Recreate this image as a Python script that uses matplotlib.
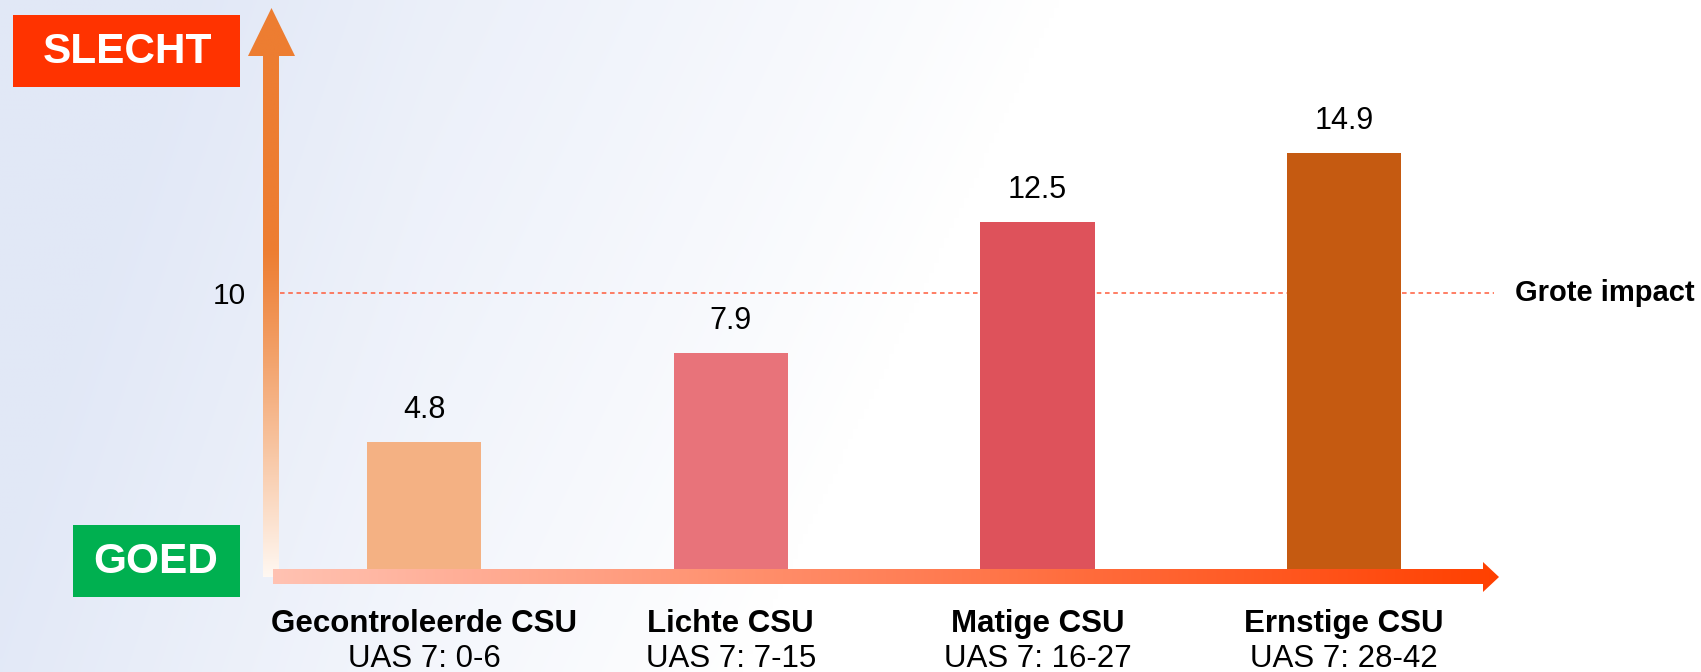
import numpy as np
import matplotlib.pyplot as plt
from matplotlib.patches import Polygon, Rectangle
from matplotlib.colors import to_rgb

plt.rcParams['font.family'] = ['Liberation Sans', 'DejaVu Sans']

# data
categories = ['Gecontroleerde CSU', 'Lichte CSU', 'Matige CSU', 'Ernstige CSU']
uas_ranges = ['UAS 7: 0-6', 'UAS 7: 7-15', 'UAS 7: 16-27', 'UAS 7: 28-42']
values = [4.8, 7.9, 12.5, 14.9]
bar_colors = ['#F4B183', '#E8737A', '#DE525B', '#C55A11']
threshold = 10
threshold_label = 'Grote impact'

W, H = 1701, 672
fig = plt.figure(figsize=(W / 100, H / 100), dpi=100)


def blend(c1, c2, t):
    c1 = np.array(to_rgb(c1))
    c2 = np.array(to_rgb(c2))
    t = np.asarray(t)[..., None]
    return c1 * (1 - t) + c2 * t


# background: light blue in the top-left fading to white
bg = fig.add_axes([0, 0, 1, 1])
bg.set_zorder(0)
gx, gy = np.meshgrid(np.linspace(0, 1, 340), np.linspace(0, 1, 134))
s = np.clip(1 - gx / 0.62 - 0.3 * gy, 0, 1) ** 0.9
s = np.clip(s + 0.15 * np.clip(1 - gx / 0.25, 0, 1), 0, 0.92)
bg.imshow(blend('#FFFFFF', '#DFE6F6', s), extent=(0, W, H, 0), aspect='auto',
          interpolation='bilinear')
bg.set_xlim(0, W)
bg.set_ylim(H, 0)
bg.axis('off')

# bar chart
ax = fig.add_axes([260 / W, 93.3 / H, 1240 / W, 471.4 / H])
ax.set_zorder(1)
ax.patch.set_alpha(0)
x = np.arange(len(values))
ax.bar(x, values, width=0.372, color=bar_colors, zorder=2)
ax.hlines(threshold, -0.47, 3.49, colors='#FF5B3A', linewidth=1.1,
          linestyles=(0, (3, 2.4)), zorder=1)
ax.set_xlim(-0.535, 3.508)
ax.set_ylim(0, 16.5)
for sp in ax.spines.values():
    sp.set_visible(False)
ax.set_xticks([])
ax.set_yticks([threshold])
ax.set_yticklabels([f'{threshold:g}'], fontsize=21.5)
ax.tick_params(axis='y', length=0, pad=10)

for i, v in enumerate(values):
    ax.annotate(f'{v:.1f}', xy=(i, v), xytext=(0, 32), textcoords='offset pixels',
                ha='center', va='center', fontsize=22)
    ax.annotate(categories[i], xy=(i, 0), xytext=(0, -45), textcoords='offset pixels',
                ha='center', va='center', fontsize=22.5, fontweight='bold')
    ax.annotate(uas_ranges[i], xy=(i, 0), xytext=(0, -80), textcoords='offset pixels',
                ha='center', va='center', fontsize=22.5)

ax.text(1.012, threshold, threshold_label, transform=ax.get_yaxis_transform(),
        ha='left', va='center', fontsize=21, fontweight='bold')

# overlay: gradient arrows and labels, in pixel coordinates
ov = fig.add_axes([0, 0, 1, 1])
ov.set_zorder(2)
ov.patch.set_alpha(0)
ov.set_xlim(0, W)
ov.set_ylim(H, 0)
ov.axis('off')

# vertical arrow
vpoly = Polygon([(263, 577), (263, 56), (248, 56), (271.5, 8), (295, 56),
                 (279, 56), (279, 577)], closed=True, facecolor='none', edgecolor='none')
ov.add_patch(vpoly)
ty = np.linspace(0, 1, 300)
tv = np.clip((ty - 0.42) / 0.58, 0, 1) ** 1.1
vimg = blend('#ED7D31', '#FFF8F2', tv)[:, None, :]
im = ov.imshow(vimg, extent=(248, 295, 577, 8), aspect='auto', interpolation='bilinear')
im.set_clip_path(vpoly)

# horizontal arrow
hpoly = Polygon([(273, 569), (1483, 569), (1483, 562), (1499, 577), (1483, 592),
                 (1483, 584), (273, 584)], closed=True, facecolor='none', edgecolor='none')
ov.add_patch(hpoly)
tx = np.linspace(0, 1, 400)
himg = blend('#FFC2B2', '#FF4000', tx)[None, :, :]
im2 = ov.imshow(himg, extent=(273, 1499, 592, 562), aspect='auto', interpolation='bilinear')
im2.set_clip_path(hpoly)

# SLECHT / GOED boxes
ov.add_patch(Rectangle((13, 15), 227, 72, facecolor='#FF3300', edgecolor='none'))
ov.text(127, 52, 'SLECHT', color='white', fontsize=30.5, fontweight='bold',
        ha='center', va='center')
ov.add_patch(Rectangle((73, 525), 167, 72, facecolor='#00B050', edgecolor='none'))
ov.text(156, 562, 'GOED', color='white', fontsize=30.5, fontweight='bold',
        ha='center', va='center')

fig.savefig('out.png', dpi=100)
